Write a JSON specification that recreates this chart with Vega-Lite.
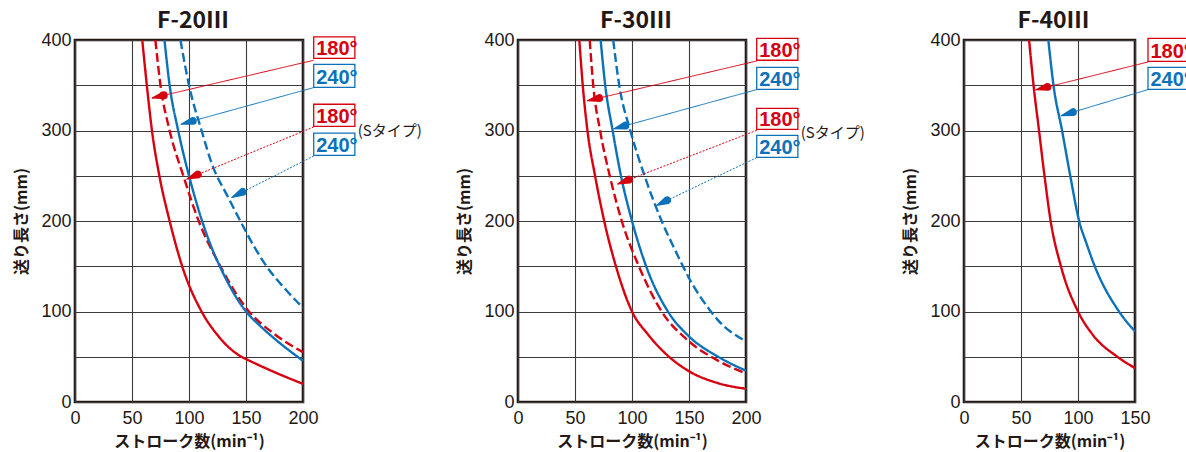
{
  "$schema": "https://vega.github.io/schema/vega-lite/v6.json",
  "padding": {"left": 12, "top": 8, "right": 0, "bottom": 0},
  "background": "white",
  "bounds": "flush",
  "spacing": 215,
  "resolve": {"scale": {"x": "independent", "y": "independent"}},
  "config": {
    "view": {"stroke": "#231815", "strokeWidth": 2.6},
    "axis": {
      "domain": false, "ticks": false, "grid": true,
      "gridColor": "#3e3a39", "gridWidth": 1.1,
      "labelFont": "Liberation Sans", "labelFontSize": 18, "labelColor": "#231815",
      "titleFont": "Noto Sans CJK JP", "titleFontSize": 16, "titleFontWeight": "bold", "titleColor": "#231815",
      "labelFlush": false
    },
    "axisX": {"labelPadding": 7, "titlePadding": 6},
    "axisY": {"labelPadding": 4, "titlePadding": 11},
    "title": {"font": "Noto Sans CJK JP", "fontSize": 23, "fontWeight": "bold", "color": "#231815", "anchor": "middle", "frame": "group", "offset": -2, "dx": 4}
  },
  "datasets": {
    "curves": [
      {"model":"F-20","angle":"180","type":"std","x":59,"y":400},
      {"model":"F-20","angle":"180","type":"std","x":63,"y":350},
      {"model":"F-20","angle":"180","type":"std","x":67.5,"y":300},
      {"model":"F-20","angle":"180","type":"std","x":74,"y":250},
      {"model":"F-20","angle":"180","type":"std","x":83,"y":200},
      {"model":"F-20","angle":"180","type":"std","x":94,"y":150},
      {"model":"F-20","angle":"180","type":"std","x":111,"y":100},
      {"model":"F-20","angle":"180","type":"std","x":125,"y":74},
      {"model":"F-20","angle":"180","type":"std","x":146,"y":50},
      {"model":"F-20","angle":"180","type":"std","x":150,"y":47.5},
      {"model":"F-20","angle":"180","type":"std","x":175,"y":33},
      {"model":"F-20","angle":"180","type":"std","x":200,"y":20},
      {"model":"F-20","angle":"180","type":"S","x":70.5,"y":400},
      {"model":"F-20","angle":"180","type":"S","x":75,"y":350},
      {"model":"F-20","angle":"180","type":"S","x":83,"y":300},
      {"model":"F-20","angle":"180","type":"S","x":95,"y":250},
      {"model":"F-20","angle":"180","type":"S","x":108.5,"y":200},
      {"model":"F-20","angle":"180","type":"S","x":127.5,"y":150},
      {"model":"F-20","angle":"180","type":"S","x":150,"y":104},
      {"model":"F-20","angle":"180","type":"S","x":175,"y":75},
      {"model":"F-20","angle":"180","type":"S","x":200,"y":55},
      {"model":"F-20","angle":"240","type":"std","x":78.5,"y":400},
      {"model":"F-20","angle":"240","type":"std","x":83,"y":350},
      {"model":"F-20","angle":"240","type":"std","x":90.5,"y":300},
      {"model":"F-20","angle":"240","type":"std","x":100,"y":250},
      {"model":"F-20","angle":"240","type":"std","x":111.5,"y":200},
      {"model":"F-20","angle":"240","type":"std","x":121,"y":167},
      {"model":"F-20","angle":"240","type":"std","x":127,"y":150},
      {"model":"F-20","angle":"240","type":"std","x":150,"y":100},
      {"model":"F-20","angle":"240","type":"std","x":162.5,"y":84},
      {"model":"F-20","angle":"240","type":"std","x":175,"y":70},
      {"model":"F-20","angle":"240","type":"std","x":200,"y":45.5},
      {"model":"F-20","angle":"240","type":"S","x":92.5,"y":400},
      {"model":"F-20","angle":"240","type":"S","x":100,"y":350},
      {"model":"F-20","angle":"240","type":"S","x":111,"y":300},
      {"model":"F-20","angle":"240","type":"S","x":121,"y":260},
      {"model":"F-20","angle":"240","type":"S","x":134,"y":227},
      {"model":"F-20","angle":"240","type":"S","x":145,"y":200},
      {"model":"F-20","angle":"240","type":"S","x":157,"y":172},
      {"model":"F-20","angle":"240","type":"S","x":168,"y":150},
      {"model":"F-20","angle":"240","type":"S","x":185,"y":124},
      {"model":"F-20","angle":"240","type":"S","x":200,"y":104},

      {"model":"F-30","angle":"180","type":"std","x":53.8,"y":400},
      {"model":"F-30","angle":"180","type":"std","x":56.8,"y":350},
      {"model":"F-30","angle":"180","type":"std","x":60.9,"y":300},
      {"model":"F-30","angle":"180","type":"std","x":67.6,"y":250},
      {"model":"F-30","angle":"180","type":"std","x":75.6,"y":200},
      {"model":"F-30","angle":"180","type":"std","x":85.9,"y":150},
      {"model":"F-30","angle":"180","type":"std","x":100,"y":100},
      {"model":"F-30","angle":"180","type":"std","x":113.8,"y":75},
      {"model":"F-30","angle":"180","type":"std","x":128.8,"y":54.2},
      {"model":"F-30","angle":"180","type":"std","x":150,"y":34},
      {"model":"F-30","angle":"180","type":"std","x":175,"y":21},
      {"model":"F-30","angle":"180","type":"std","x":200,"y":14.6},
      {"model":"F-30","angle":"180","type":"S","x":62.9,"y":400},
      {"model":"F-30","angle":"180","type":"S","x":66,"y":350},
      {"model":"F-30","angle":"180","type":"S","x":72,"y":300},
      {"model":"F-30","angle":"180","type":"S","x":80.5,"y":250},
      {"model":"F-30","angle":"180","type":"S","x":91,"y":200},
      {"model":"F-30","angle":"180","type":"S","x":106,"y":150},
      {"model":"F-30","angle":"180","type":"S","x":126,"y":100},
      {"model":"F-30","angle":"180","type":"S","x":150,"y":67},
      {"model":"F-30","angle":"180","type":"S","x":175,"y":46},
      {"model":"F-30","angle":"180","type":"S","x":200,"y":31.5},
      {"model":"F-30","angle":"240","type":"std","x":72.5,"y":400},
      {"model":"F-30","angle":"240","type":"std","x":76.5,"y":350},
      {"model":"F-30","angle":"240","type":"std","x":83,"y":300},
      {"model":"F-30","angle":"240","type":"std","x":90.3,"y":250},
      {"model":"F-30","angle":"240","type":"std","x":100,"y":200},
      {"model":"F-30","angle":"240","type":"std","x":112.4,"y":150},
      {"model":"F-30","angle":"240","type":"std","x":131.5,"y":100},
      {"model":"F-30","angle":"240","type":"std","x":150,"y":72.5},
      {"model":"F-30","angle":"240","type":"std","x":175,"y":50.4},
      {"model":"F-30","angle":"240","type":"std","x":200,"y":34.6},
      {"model":"F-30","angle":"240","type":"S","x":83.5,"y":400},
      {"model":"F-30","angle":"240","type":"S","x":88.8,"y":350},
      {"model":"F-30","angle":"240","type":"S","x":98.5,"y":300},
      {"model":"F-30","angle":"240","type":"S","x":111,"y":250},
      {"model":"F-30","angle":"240","type":"S","x":126,"y":200},
      {"model":"F-30","angle":"240","type":"S","x":137,"y":170},
      {"model":"F-30","angle":"240","type":"S","x":143.5,"y":153},
      {"model":"F-30","angle":"240","type":"S","x":150,"y":137},
      {"model":"F-30","angle":"240","type":"S","x":168,"y":102},
      {"model":"F-30","angle":"240","type":"S","x":175,"y":91},
      {"model":"F-30","angle":"240","type":"S","x":200,"y":67},

      {"model":"F-40","angle":"180","type":"std","x":57.1,"y":400},
      {"model":"F-40","angle":"180","type":"std","x":61,"y":350},
      {"model":"F-40","angle":"180","type":"std","x":65.8,"y":300},
      {"model":"F-40","angle":"180","type":"std","x":70.6,"y":250},
      {"model":"F-40","angle":"180","type":"std","x":76,"y":200},
      {"model":"F-40","angle":"180","type":"std","x":85,"y":150},
      {"model":"F-40","angle":"180","type":"std","x":100,"y":100},
      {"model":"F-40","angle":"180","type":"std","x":112.5,"y":75},
      {"model":"F-40","angle":"180","type":"std","x":134.5,"y":50},
      {"model":"F-40","angle":"180","type":"std","x":150,"y":37.5},
      {"model":"F-40","angle":"240","type":"std","x":74,"y":400},
      {"model":"F-40","angle":"240","type":"std","x":78.5,"y":350},
      {"model":"F-40","angle":"240","type":"std","x":86,"y":300},
      {"model":"F-40","angle":"240","type":"std","x":93.2,"y":250},
      {"model":"F-40","angle":"240","type":"std","x":101,"y":200},
      {"model":"F-40","angle":"240","type":"std","x":107.5,"y":175},
      {"model":"F-40","angle":"240","type":"std","x":114.7,"y":150},
      {"model":"F-40","angle":"240","type":"std","x":136,"y":100},
      {"model":"F-40","angle":"240","type":"std","x":150,"y":78}
    ],
    "boxes": [
      {"model":"F-20","angle":"180","type":"std","label":"180°","bx1":209.4,"bx2":245.5,"by1":403.5,"by2":379.8},
      {"model":"F-20","angle":"240","type":"std","label":"240°","bx1":209.4,"bx2":245.5,"by1":373.1,"by2":347.7},
      {"model":"F-20","angle":"180","type":"S","label":"180°","bx1":209.4,"bx2":245.5,"by1":329.0,"by2":304.6},
      {"model":"F-20","angle":"240","type":"S","label":"240°","bx1":209.4,"bx2":245.5,"by1":297.0,"by2":272.6},
      {"model":"F-30","angle":"180","type":"std","label":"180°","bx1":209.4,"bx2":245.5,"by1":401.9,"by2":377.6},
      {"model":"F-30","angle":"240","type":"std","label":"240°","bx1":209.4,"bx2":245.5,"by1":369.8,"by2":345.5},
      {"model":"F-30","angle":"180","type":"S","label":"180°","bx1":209.4,"bx2":245.5,"by1":324.5,"by2":301.3},
      {"model":"F-30","angle":"240","type":"S","label":"240°","bx1":209.4,"bx2":245.5,"by1":294.6,"by2":270.4},
      {"model":"F-40","angle":"180","type":"std","label":"180°","bx1":161.4,"bx2":197.5,"by1":401.9,"by2":376.4},
      {"model":"F-40","angle":"240","type":"std","label":"240°","bx1":161.4,"bx2":197.5,"by1":369.8,"by2":345.5}
    ],
    "arrows": [
      {"model":"F-20","angle":"180","type":"std","sx":209.4,"sy":377.6,"tx":67.6,"ty":335.8},
      {"model":"F-20","angle":"240","type":"std","sx":209.4,"sy":347.4,"tx":93,"ty":307},
      {"model":"F-20","angle":"180","type":"S","sx":209.4,"sy":303.9,"tx":98,"ty":246.3},
      {"model":"F-20","angle":"240","type":"S","sx":209.4,"sy":271.8,"tx":137.5,"ty":226},
      {"model":"F-30","angle":"180","type":"std","sx":209.4,"sy":376.8,"tx":60.9,"ty":332.8},
      {"model":"F-30","angle":"240","type":"std","sx":209.4,"sy":345.2,"tx":83.8,"ty":301.8},
      {"model":"F-30","angle":"180","type":"S","sx":209.4,"sy":300.2,"tx":87.4,"ty":240.8},
      {"model":"F-30","angle":"240","type":"S","sx":209.4,"sy":270,"tx":121.2,"ty":217},
      {"model":"F-40","angle":"180","type":"std","sx":161.4,"sy":375.7,"tx":62.9,"ty":344.9},
      {"model":"F-40","angle":"240","type":"std","sx":161.4,"sy":345.2,"tx":85.3,"ty":316.4}
    ],
    "heads": [
      {"model":"F-20","angle":"180","id":"a1","end":"tip","x":67.6,"y":335.8},
      {"model":"F-20","angle":"180","id":"a1","end":"base","x":77.8,"y":338.8},
      {"model":"F-20","angle":"240","id":"a2","end":"tip","x":93,"y":307},
      {"model":"F-20","angle":"240","id":"a2","end":"base","x":103.2,"y":310.5},
      {"model":"F-20","angle":"180","id":"a3","end":"tip","x":98,"y":246.3},
      {"model":"F-20","angle":"180","id":"a3","end":"base","x":107.7,"y":251.3},
      {"model":"F-20","angle":"240","id":"a4","end":"tip","x":137.5,"y":226},
      {"model":"F-20","angle":"240","id":"a4","end":"base","x":146.9,"y":232},
      {"model":"F-30","angle":"180","id":"b1","end":"tip","x":60.9,"y":332.8},
      {"model":"F-30","angle":"180","id":"b1","end":"base","x":71.1,"y":335.8},
      {"model":"F-30","angle":"240","id":"b2","end":"tip","x":83.8,"y":301.8},
      {"model":"F-30","angle":"240","id":"b2","end":"base","x":94.0,"y":305.3},
      {"model":"F-30","angle":"180","id":"b3","end":"tip","x":87.4,"y":240.8},
      {"model":"F-30","angle":"180","id":"b3","end":"base","x":97.2,"y":245.6},
      {"model":"F-30","angle":"240","id":"b4","end":"tip","x":121.2,"y":217},
      {"model":"F-30","angle":"240","id":"b4","end":"base","x":130.7,"y":222.8},
      {"model":"F-40","angle":"180","id":"c1","end":"tip","x":62.9,"y":344.9},
      {"model":"F-40","angle":"180","id":"c1","end":"base","x":73.1,"y":348.1},
      {"model":"F-40","angle":"240","id":"c2","end":"tip","x":85.3,"y":316.4},
      {"model":"F-40","angle":"240","id":"c2","end":"base","x":95.4,"y":320.2}
    ],
    "notes": [
      {"model":"F-20","text":"(Sタイプ)","x":248,"y":299},
      {"model":"F-30","text":"(Sタイプ)","x":248,"y":297}
    ]
  },
  "hconcat": [
    {
      "width": 228, "height": 362,
      "title": {"text": "F-20Ⅲ"},
      "layer": [
        {
          "data": {"name": "curves"},
          "transform": [{"filter": "datum.model === 'F-20'"}],
          "mark": {"type": "line", "clip": true, "strokeWidth": 2.4, "interpolate": "monotone"},
          "encoding": {
            "x": {"field": "x", "type": "quantitative", "scale": {"domain": [0, 200], "nice": false}, "axis": {"values": [0, 50, 100, 150, 200], "title": "ストローク数(min⁻¹)"}},
            "y": {"field": "y", "type": "quantitative", "scale": {"domain": [0, 400], "nice": false}, "axis": {"values": [0, 50, 100, 150, 200, 250, 300, 350, 400], "labelExpr": "datum.value % 100 === 0 ? datum.label : ''", "title": "送り長さ(mm)"}},
            "color": {"field": "angle", "type": "nominal", "scale": {"domain": ["180", "240"], "range": ["#d7000f", "#0b72b9"]}, "legend": null},
            "strokeDash": {"field": "type", "type": "nominal", "scale": {"domain": ["std", "S"], "range": [[1, 0], [9, 4]]}, "legend": null}
          }
        },
        {
          "data": {"name": "arrows"},
          "transform": [{"filter": "datum.model === 'F-20'"}],
          "mark": {"type": "rule", "strokeWidth": 1},
          "encoding": {
            "x": {"field": "sx", "type": "quantitative", "scale": {"domain": [0, 200], "nice": false}},
            "y": {"field": "sy", "type": "quantitative", "scale": {"domain": [0, 400], "nice": false}},
            "x2": {"field": "tx"}, "y2": {"field": "ty"},
            "color": {"field": "angle", "type": "nominal", "scale": {"domain": ["180", "240"], "range": ["#d7000f", "#0b72b9"]}, "legend": null},
            "strokeDash": {"condition": {"test": "datum.type === 'S'", "value": [2, 1.5]}, "value": [1, 0]}
          }
        },
        {
          "data": {"name": "heads"},
          "transform": [{"filter": "datum.model === 'F-20'"}],
          "mark": {"type": "trail"},
          "encoding": {
            "x": {"field": "x", "type": "quantitative", "scale": {"domain": [0, 200], "nice": false}},
            "y": {"field": "y", "type": "quantitative", "scale": {"domain": [0, 400], "nice": false}},
            "detail": {"field": "id"},
            "size": {"field": "end", "type": "ordinal", "scale": {"domain": ["tip", "base"], "range": [0, 8]}, "legend": null},
            "color": {"field": "angle", "type": "nominal", "scale": {"domain": ["180", "240"], "range": ["#d7000f", "#0b72b9"]}, "legend": null}
          }
        },
        {
          "data": {"name": "boxes"},
          "transform": [{"filter": "datum.model === 'F-20'"}],
          "mark": {"type": "rect", "fill": "white", "strokeWidth": 1.3},
          "encoding": {
            "x": {"field": "bx1", "type": "quantitative", "scale": {"domain": [0, 200], "nice": false}},
            "x2": {"field": "bx2"},
            "y": {"field": "by1", "type": "quantitative", "scale": {"domain": [0, 400], "nice": false}},
            "y2": {"field": "by2"},
            "stroke": {"field": "angle", "type": "nominal", "scale": {"domain": ["180", "240"], "range": ["#d7000f", "#0b72b9"]}, "legend": null},
            "strokeDash": {"condition": {"test": "datum.type === 'S'", "value": [2, 1.5]}, "value": [1, 0]}
          }
        },
        {
          "data": {"name": "boxes"},
          "transform": [{"filter": "datum.model === 'F-20'"}],
          "mark": {"type": "text", "font": "Liberation Sans Narrow, Liberation Sans", "fontWeight": "bold", "fontSize": 20, "align": "left", "baseline": "alphabetic", "dx": 2.5, "dy": -3},
          "encoding": {
            "x": {"field": "bx1", "type": "quantitative", "scale": {"domain": [0, 200], "nice": false}},
            "y": {"field": "by2", "type": "quantitative", "scale": {"domain": [0, 400], "nice": false}},
            "text": {"field": "label"},
            "color": {"field": "angle", "type": "nominal", "scale": {"domain": ["180", "240"], "range": ["#d7000f", "#0b72b9"]}, "legend": null}
          }
        },
        {
          "data": {"name": "notes"},
          "transform": [{"filter": "datum.model === 'F-20'"}],
          "mark": {"type": "text", "font": "Noto Sans CJK JP", "fontSize": 15, "align": "left", "baseline": "middle", "color": "#231815"},
          "encoding": {
            "x": {"field": "x", "type": "quantitative", "scale": {"domain": [0, 200], "nice": false}},
            "y": {"field": "y", "type": "quantitative", "scale": {"domain": [0, 400], "nice": false}},
            "text": {"field": "text"}
          }
        }
      ]
    },
    {
      "bounds": "flush",
      "spacing": 218,
      "resolve": {"scale": {"x": "independent", "y": "independent"}},
      "hconcat": [
        {
          "width": 228, "height": 362,
          "title": {"text": "F-30Ⅲ"},
          "layer": [
            {
              "data": {"name": "curves"},
              "transform": [{"filter": "datum.model === 'F-30'"}],
              "mark": {"type": "line", "clip": true, "strokeWidth": 2.4, "interpolate": "monotone"},
              "encoding": {
                "x": {"field": "x", "type": "quantitative", "scale": {"domain": [0, 200], "nice": false}, "axis": {"values": [0, 50, 100, 150, 200], "title": "ストローク数(min⁻¹)"}},
                "y": {"field": "y", "type": "quantitative", "scale": {"domain": [0, 400], "nice": false}, "axis": {"values": [0, 50, 100, 150, 200, 250, 300, 350, 400], "labelExpr": "datum.value % 100 === 0 ? datum.label : ''", "title": "送り長さ(mm)"}},
                "color": {"field": "angle", "type": "nominal", "scale": {"domain": ["180", "240"], "range": ["#d7000f", "#0b72b9"]}, "legend": null},
                "strokeDash": {"field": "type", "type": "nominal", "scale": {"domain": ["std", "S"], "range": [[1, 0], [9, 4]]}, "legend": null}
              }
            },
            {
              "data": {"name": "arrows"},
              "transform": [{"filter": "datum.model === 'F-30'"}],
              "mark": {"type": "rule", "strokeWidth": 1},
              "encoding": {
                "x": {"field": "sx", "type": "quantitative", "scale": {"domain": [0, 200], "nice": false}},
                "y": {"field": "sy", "type": "quantitative", "scale": {"domain": [0, 400], "nice": false}},
                "x2": {"field": "tx"}, "y2": {"field": "ty"},
                "color": {"field": "angle", "type": "nominal", "scale": {"domain": ["180", "240"], "range": ["#d7000f", "#0b72b9"]}, "legend": null},
                "strokeDash": {"condition": {"test": "datum.type === 'S'", "value": [2, 1.5]}, "value": [1, 0]}
              }
            },
            {
              "data": {"name": "heads"},
              "transform": [{"filter": "datum.model === 'F-30'"}],
              "mark": {"type": "trail"},
              "encoding": {
                "x": {"field": "x", "type": "quantitative", "scale": {"domain": [0, 200], "nice": false}},
                "y": {"field": "y", "type": "quantitative", "scale": {"domain": [0, 400], "nice": false}},
                "detail": {"field": "id"},
                "size": {"field": "end", "type": "ordinal", "scale": {"domain": ["tip", "base"], "range": [0, 8]}, "legend": null},
                "color": {"field": "angle", "type": "nominal", "scale": {"domain": ["180", "240"], "range": ["#d7000f", "#0b72b9"]}, "legend": null}
              }
            },
            {
              "data": {"name": "boxes"},
              "transform": [{"filter": "datum.model === 'F-30'"}],
              "mark": {"type": "rect", "fill": "white", "strokeWidth": 1.3},
              "encoding": {
                "x": {"field": "bx1", "type": "quantitative", "scale": {"domain": [0, 200], "nice": false}},
                "x2": {"field": "bx2"},
                "y": {"field": "by1", "type": "quantitative", "scale": {"domain": [0, 400], "nice": false}},
                "y2": {"field": "by2"},
                "stroke": {"field": "angle", "type": "nominal", "scale": {"domain": ["180", "240"], "range": ["#d7000f", "#0b72b9"]}, "legend": null},
                "strokeDash": {"condition": {"test": "datum.type === 'S'", "value": [2, 1.5]}, "value": [1, 0]}
              }
            },
            {
              "data": {"name": "boxes"},
              "transform": [{"filter": "datum.model === 'F-30'"}],
              "mark": {"type": "text", "font": "Liberation Sans Narrow, Liberation Sans", "fontWeight": "bold", "fontSize": 20, "align": "left", "baseline": "alphabetic", "dx": 2.5, "dy": -3},
              "encoding": {
                "x": {"field": "bx1", "type": "quantitative", "scale": {"domain": [0, 200], "nice": false}},
                "y": {"field": "by2", "type": "quantitative", "scale": {"domain": [0, 400], "nice": false}},
                "text": {"field": "label"},
                "color": {"field": "angle", "type": "nominal", "scale": {"domain": ["180", "240"], "range": ["#d7000f", "#0b72b9"]}, "legend": null}
              }
            },
            {
              "data": {"name": "notes"},
              "transform": [{"filter": "datum.model === 'F-30'"}],
              "mark": {"type": "text", "font": "Noto Sans CJK JP", "fontSize": 15, "align": "left", "baseline": "middle", "color": "#231815"},
              "encoding": {
                "x": {"field": "x", "type": "quantitative", "scale": {"domain": [0, 200], "nice": false}},
                "y": {"field": "y", "type": "quantitative", "scale": {"domain": [0, 400], "nice": false}},
                "text": {"field": "text"}
              }
            }
          ]
        },
        {
          "width": 171, "height": 362,
          "title": {"text": "F-40Ⅲ"},
          "layer": [
            {
              "data": {"name": "curves"},
              "transform": [{"filter": "datum.model === 'F-40'"}],
              "mark": {"type": "line", "clip": true, "strokeWidth": 2.4, "interpolate": "monotone"},
              "encoding": {
                "x": {"field": "x", "type": "quantitative", "scale": {"domain": [0, 150], "nice": false}, "axis": {"values": [0, 50, 100, 150], "title": "ストローク数(min⁻¹)"}},
                "y": {"field": "y", "type": "quantitative", "scale": {"domain": [0, 400], "nice": false}, "axis": {"values": [0, 50, 100, 150, 200, 250, 300, 350, 400], "labelExpr": "datum.value % 100 === 0 ? datum.label : ''", "title": "送り長さ(mm)"}},
                "color": {"field": "angle", "type": "nominal", "scale": {"domain": ["180", "240"], "range": ["#d7000f", "#0b72b9"]}, "legend": null},
                "strokeDash": {"field": "type", "type": "nominal", "scale": {"domain": ["std", "S"], "range": [[1, 0], [9, 4]]}, "legend": null}
              }
            },
            {
              "data": {"name": "arrows"},
              "transform": [{"filter": "datum.model === 'F-40'"}],
              "mark": {"type": "rule", "strokeWidth": 1},
              "encoding": {
                "x": {"field": "sx", "type": "quantitative", "scale": {"domain": [0, 150], "nice": false}},
                "y": {"field": "sy", "type": "quantitative", "scale": {"domain": [0, 400], "nice": false}},
                "x2": {"field": "tx"}, "y2": {"field": "ty"},
                "color": {"field": "angle", "type": "nominal", "scale": {"domain": ["180", "240"], "range": ["#d7000f", "#0b72b9"]}, "legend": null},
                "strokeDash": {"condition": {"test": "datum.type === 'S'", "value": [2, 1.5]}, "value": [1, 0]}
              }
            },
            {
              "data": {"name": "heads"},
              "transform": [{"filter": "datum.model === 'F-40'"}],
              "mark": {"type": "trail"},
              "encoding": {
                "x": {"field": "x", "type": "quantitative", "scale": {"domain": [0, 150], "nice": false}},
                "y": {"field": "y", "type": "quantitative", "scale": {"domain": [0, 400], "nice": false}},
                "detail": {"field": "id"},
                "size": {"field": "end", "type": "ordinal", "scale": {"domain": ["tip", "base"], "range": [0, 8]}, "legend": null},
                "color": {"field": "angle", "type": "nominal", "scale": {"domain": ["180", "240"], "range": ["#d7000f", "#0b72b9"]}, "legend": null}
              }
            },
            {
              "data": {"name": "boxes"},
              "transform": [{"filter": "datum.model === 'F-40'"}],
              "mark": {"type": "rect", "fill": "white", "strokeWidth": 1.3},
              "encoding": {
                "x": {"field": "bx1", "type": "quantitative", "scale": {"domain": [0, 150], "nice": false}},
                "x2": {"field": "bx2"},
                "y": {"field": "by1", "type": "quantitative", "scale": {"domain": [0, 400], "nice": false}},
                "y2": {"field": "by2"},
                "stroke": {"field": "angle", "type": "nominal", "scale": {"domain": ["180", "240"], "range": ["#d7000f", "#0b72b9"]}, "legend": null},
                "strokeDash": {"condition": {"test": "datum.type === 'S'", "value": [2, 1.5]}, "value": [1, 0]}
              }
            },
            {
              "data": {"name": "boxes"},
              "transform": [{"filter": "datum.model === 'F-40'"}],
              "mark": {"type": "text", "font": "Liberation Sans Narrow, Liberation Sans", "fontWeight": "bold", "fontSize": 20, "align": "left", "baseline": "alphabetic", "dx": 2.5, "dy": -3},
              "encoding": {
                "x": {"field": "bx1", "type": "quantitative", "scale": {"domain": [0, 150], "nice": false}},
                "y": {"field": "by2", "type": "quantitative", "scale": {"domain": [0, 400], "nice": false}},
                "text": {"field": "label"},
                "color": {"field": "angle", "type": "nominal", "scale": {"domain": ["180", "240"], "range": ["#d7000f", "#0b72b9"]}, "legend": null}
              }
            }
          ]
        }
      ]
    }
  ]
}
